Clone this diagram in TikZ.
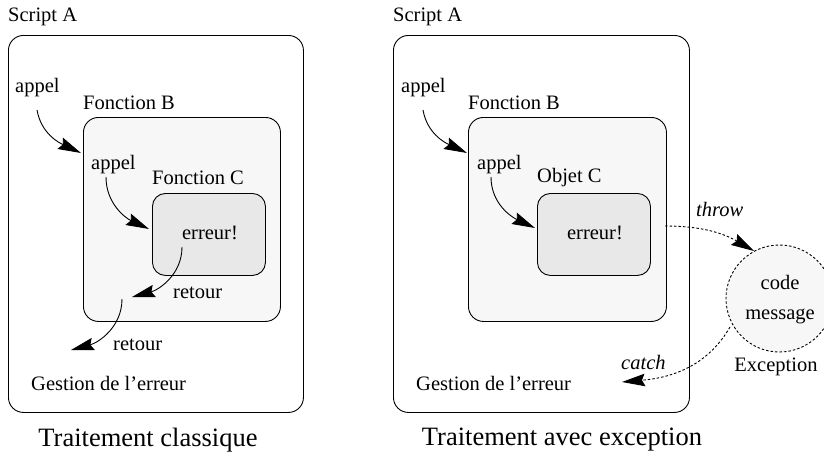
\documentclass[tikz,border=0pt]{standalone}
\usepackage{fontspec}
\setmainfont{Liberation Serif}
\usetikzlibrary{arrows.meta}
\begin{document}
\begin{tikzpicture}[x=1pt,y=-1pt,
  box/.style={draw, line width=0.9pt, rounded corners=15pt, inner sep=0pt, anchor=north west},
  lbl/.style={font=\rmfamily\fontsize{20.5}{24}\selectfont, inner sep=0pt, anchor=west},
  captxt/.style={font=\rmfamily\fontsize{26.5}{30}\selectfont, inner sep=0pt},
  tip/.style={-{Stealth[length=23pt,width=12.5pt,inset=3pt]}},
  arr/.style={line width=0.9pt, tip},
  dsh/.style={line width=0.9pt, dash pattern=on 2.5pt off 2pt},
]
\useasboundingbox (0,0) rectangle (824,455);
\definecolor{bfill}{gray}{0.97}
\definecolor{cfill}{gray}{0.91}
% ---------- left panel ----------
\node[box, minimum width=295pt, minimum height=377pt] (A1) at (8,35) {};
\node[box, fill=bfill, minimum width=197pt, minimum height=204pt] (B1) at (83,117) {};
\node[box, fill=cfill, rounded corners=13pt, minimum width=113pt, minimum height=82pt] (C1) at (152,193) {};
\node[lbl] (sa1) at (8,17) {Script A};
\node[lbl] (ap1) at (15,88) {appel};
\node[lbl] (fb1) at (83,103) {Fonction B};
\node[lbl] (ap2) at (91,165) {appel};
\node[lbl] (fc1) at (152,178) {Fonction C};
\node[lbl, anchor=center] (er1) at (210,233) {erreur!};
\node[lbl] (rt1) at (173,293) {retour};
\node[lbl] (rt2) at (113,345) {retour};
\node[lbl] (ge1) at (31,383) {Gestion de l’erreur};
\node[captxt] (cp1) at (148,440) {Traitement classique};
\coordinate (a1s) at (37,110);
\coordinate (a1e) at (81,153);
\coordinate (a2s) at (106,177);
\coordinate (a2e) at (149,229);
\coordinate (r1s) at (182,247);
\coordinate (r1e) at (132,297);
\coordinate (r2s) at (122,299);
\coordinate (r2e) at (71,350);
\draw[arr] (a1s) to[out=-80,in=155] (a1e);
\draw[arr] (a2s) to[out=-90,in=155] (a2e);
\draw[arr] (r1s) to[out=-90,in=15] (r1e);
\draw[arr] (r2s) to[out=-90,in=15] (r2e);
% ---------- right panel ----------
\node[box, minimum width=296pt, minimum height=377pt] (A2) at (393,35) {};
\node[box, fill=bfill, minimum width=198pt, minimum height=204pt] (B2) at (468,117) {};
\node[box, fill=cfill, rounded corners=13pt, minimum width=113pt, minimum height=82pt] (C2) at (537,193) {};
\node[lbl] (sa2) at (393,17) {Script A};
\node[lbl] (ap3) at (401,88) {appel};
\node[lbl] (fb2) at (468,103) {Fonction B};
\node[lbl] (ap4) at (477,165) {appel};
\node[lbl] (oc2) at (537,178) {Objet C};
\node[lbl, anchor=center] (er2) at (595,233) {erreur!};
\node[lbl] (ge2) at (416,383) {Gestion de l’erreur};
\node[captxt] (cp2) at (562,440) {Traitement avec exception};
\coordinate (a3s) at (423,110);
\coordinate (a3e) at (467,153);
\coordinate (a4s) at (491,177);
\coordinate (a4e) at (535,228);
\draw[arr] (a3s) to[out=-80,in=155] (a3e);
\draw[arr] (a4s) to[out=-90,in=155] (a4e);
% exception
\node[circle, dsh, draw, fill=bfill, minimum size=107pt, inner sep=0pt] (ex) at (779.5,298.5) {};
\node[font=\rmfamily\fontsize{20.5}{30}\selectfont, align=center, inner sep=0pt] (exm) at (780,300) {code\\message};
\node[lbl, anchor=center] (exl) at (776,367) {Exception};
\node[lbl, font=\rmfamily\itshape\fontsize{20.5}{24}\selectfont] (thr) at (696,209) {throw};
\node[lbl, font=\rmfamily\itshape\fontsize{20.5}{24}\selectfont] (cat) at (621,362) {catch};
\coordinate (ts) at (665,226);
\coordinate (te) at (754,251);
\coordinate (cs) at (730,327);
\coordinate (ce) at (622,382);
\draw[dsh, tip] (ts) to[out=0,in=150] (te);
\draw[dsh, tip] (cs) to[out=-120,in=5] (ce);
\end{tikzpicture}
\end{document}
